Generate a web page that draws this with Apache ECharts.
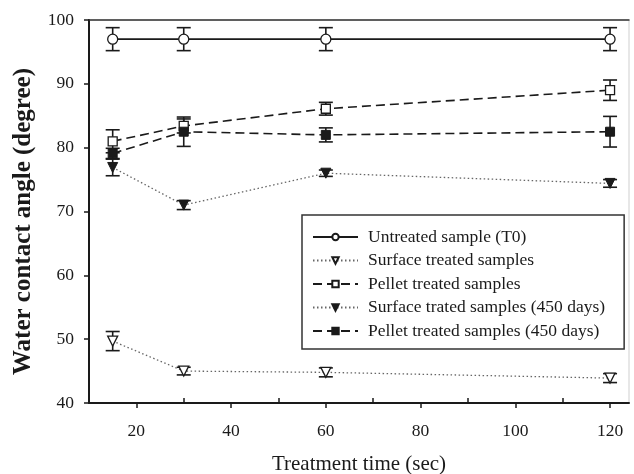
<!DOCTYPE html>
<html>
<head>
<meta charset="utf-8">
<script src="https://cdn.jsdelivr.net/npm/echarts@6/dist/echarts.min.js"></script>
<style>html,body{margin:0;padding:0;background:#fff}#c{width:634px;height:474px}</style>
</head>
<body>
<div id="c"></div>
<script>
// ---- data ----
const times = [15, 30, 60, 120];
const untreated = [97.0, 97.0, 97.0, 97.0];
const untreatedErr = [1.8, 1.8, 1.8, 1.8];
const surface = [49.7, 45.0, 44.8, 43.9];
const surfaceErr = [1.5, 0.6, 0.7, 0.7];
const pellet = [81.0, 83.4, 86.1, 89.0];
const pelletErr = [1.8, 1.1, 1.0, 1.6];
const surface450 = [76.9, 71.0, 76.0, 74.4];
const surface450Err = [1.3, 0.7, 0.5, 0.6];
const pellet450 = [79.1, 82.5, 82.0, 82.5];
const pellet450Err = [0.8, 2.3, 1.1, 2.4];
const seriesNames = ['Untreated sample (T0)', 'Surface treated samples', 'Pellet treated samples',
  'Surface trated samples (450 days)', 'Pellet treated samples (450 days)'];
const xMajorTicks = [20, 40, 60, 80, 100, 120];
const xMinorTicks = [30, 50, 70, 90, 110];
const yTicks = [40, 50, 60, 70, 80, 90, 100];
const xTitle = 'Treatment time (sec)';
const yTitle = 'Water contact angle (degree)';

// ---- chart ----
const FONT = '"Liberation Serif", "Times New Roman", serif';
const INK = '#1a1a1a';
const chart = echarts.init(document.getElementById('c'));

function pts(vals) { return times.map((t, i) => [t, vals[i]]); }
function errData(vals, errs) { return times.map((t, i) => [t, vals[i], errs[i]]); }

function errSeries(vals, errs) {
  return {
    type: 'custom', xAxisIndex: 0, yAxisIndex: 0, z: 2, silent: true,
    data: errData(vals, errs),
    renderItem: function (params, api) {
      const x = api.value(0), y = api.value(1), e = api.value(2);
      const top = api.coord([x, y + e]);
      const bot = api.coord([x, y - e]);
      const hw = 7;
      const st = { stroke: INK, lineWidth: 1.6 };
      return {
        type: 'group', children: [
          { type: 'line', shape: { x1: top[0], y1: top[1], x2: bot[0], y2: bot[1] }, style: st },
          { type: 'line', shape: { x1: top[0] - hw, y1: top[1], x2: top[0] + hw, y2: top[1] }, style: st },
          { type: 'line', shape: { x1: bot[0] - hw, y1: bot[1], x2: bot[0] + hw, y2: bot[1] }, style: st }
        ]
      };
    }
  };
}

function lineSeries(name, vals, opts) {
  return Object.assign({
    name: name, type: 'line', xAxisIndex: 0, yAxisIndex: 0, z: 3,
    data: pts(vals), symbolSize: 9, showSymbol: true, animation: false
  }, opts);
}

const solid = { color: INK, width: 1.6, type: 'solid' };
const dashed = { color: INK, width: 1.6, type: [9, 5] };
const dotted = { color: '#666', width: 1.3, type: [1.5, 2.5] };
const openStyle = { color: '#fff', borderColor: INK, borderWidth: 1.3 };
const filledStyle = { color: INK, borderColor: INK, borderWidth: 1 };

const xCommon = { type: 'value', min: 10, max: 124, gridIndex: 0 };

const option = {
  animation: false,
  backgroundColor: '#fff',
  grid: { left: 89, right: 5, top: 20, bottom: 71, containLabel: false, outerBoundsMode: 'none',
    show: true, borderColor: '#cfcfcf', borderWidth: 1 },
  legend: {
    orient: 'vertical', left: 302, top: 215,
    data: seriesNames,
    itemWidth: 45, itemHeight: 8, itemGap: 3.5,
    padding: [12, 19, 8, 10],
    borderColor: '#333', borderWidth: 1.5, backgroundColor: '#fff',
    textStyle: { fontFamily: FONT, fontSize: 17.5, color: INK, lineHeight: 20, padding: [0, 0, 0, 5] },
    selectedMode: false
  },
  xAxis: [
    Object.assign({}, xCommon, {
      position: 'bottom',
      axisLine: { show: true, onZero: false, lineStyle: { color: INK, width: 2 } },
      axisTick: { show: true, inside: false, length: 5, lineStyle: { color: INK, width: 1.5 }, customValues: xMajorTicks },
      axisLabel: { show: true, margin: 19, fontFamily: FONT, fontSize: 17.5, color: INK, customValues: xMajorTicks },
      splitLine: { show: false },
      name: xTitle, nameLocation: 'middle', nameGap: 51,
      nameTextStyle: { fontFamily: FONT, fontSize: 21, color: INK }
    }),
    Object.assign({}, xCommon, {
      position: 'bottom',
      axisLine: { show: false },
      axisTick: { show: true, inside: true, length: 5, lineStyle: { color: INK, width: 1.5 }, customValues: xMinorTicks },
      axisLabel: { show: false },
      splitLine: { show: false }
    }),
    Object.assign({}, xCommon, {
      position: 'top',
      axisLine: { show: true, onZero: false, lineStyle: { color: '#333', width: 1.5 } },
      axisTick: { show: false }, axisLabel: { show: false }, splitLine: { show: false }
    })
  ],
  yAxis: [{
    type: 'value', min: 40, max: 100, interval: 10,
    axisLine: { show: true, onZero: false, lineStyle: { color: INK, width: 2 } },
    axisTick: { show: true, inside: false, length: 5, lineStyle: { color: INK, width: 1.5 }, customValues: yTicks },
    axisLabel: { show: true, margin: 15, fontFamily: FONT, fontSize: 17.5, color: INK, customValues: yTicks },
    splitLine: { show: false },
    name: yTitle, nameLocation: 'middle', nameGap: 53, nameRotate: 90,
    nameTextStyle: { fontFamily: FONT, fontSize: 25, fontWeight: 'bold', color: INK, padding: [0, 20, 0, 0] }
  }],
  series: [
    errSeries(untreated, untreatedErr),
    errSeries(surface, surfaceErr),
    errSeries(pellet, pelletErr),
    errSeries(surface450, surface450Err),
    errSeries(pellet450, pellet450Err),
    lineSeries(seriesNames[0], untreated, { symbol: 'circle', symbolSize: 10, lineStyle: solid, itemStyle: openStyle }),
    lineSeries(seriesNames[1], surface, { symbol: 'triangle', symbolRotate: 180, symbolSize: 10, lineStyle: dotted, itemStyle: openStyle }),
    lineSeries(seriesNames[2], pellet, { symbol: 'rect', symbolSize: 9, lineStyle: dashed, itemStyle: openStyle }),
    lineSeries(seriesNames[3], surface450, { symbol: 'triangle', symbolRotate: 180, symbolSize: 10, lineStyle: dotted, itemStyle: filledStyle }),
    lineSeries(seriesNames[4], pellet450, { symbol: 'rect', symbolSize: 9, lineStyle: dashed, itemStyle: filledStyle })
  ]
};
chart.setOption(option);
</script>
</body>
</html>
